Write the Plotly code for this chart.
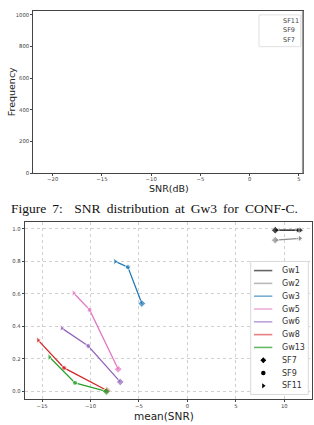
import plotly.graph_objects as go

W, H = 314, 425

# ---------------- top chart: SNR histogram (empty) ----------------
hist_series = ["SF11", "SF9", "SF7"]
snr_samples_sf11 = []
snr_samples_sf9 = []
snr_samples_sf7 = []
hist_xticks = [-20, -15, -10, -5, 0, 5]
hist_yticks = [0, 200, 400, 600, 800, 1000]

# ---------------- bottom chart: PS vs mean(SNR) ----------------
gateways = ["Gw1", "Gw2", "Gw3", "Gw5", "Gw6", "Gw8", "Gw13"]
sf_labels = ["SF7", "SF9", "SF11"]
snr_sf7 = [9.07, 9.07, -4.70, -7.14, -6.93, -8.30, -8.37]
snr_sf9 = [11.45, 11.55, -6.14, -10.09, -10.23, -12.73, -11.60]
snr_sf11 = [11.68, 11.62, -7.45, -11.74, -12.97, -15.41, -14.24]
ps_sf7 = [0.992, 0.931, 0.541, 0.137, 0.059, 0.006, 0.000]
ps_sf9 = [0.992, 0.941, 0.765, 0.502, 0.280, 0.145, 0.053]
ps_sf11 = [0.992, 0.942, 0.800, 0.606, 0.390, 0.316, 0.212]
ps_xticks = [-15, -10, -5, 0, 5, 10]
ps_yticks = [0.0, 0.2, 0.4, 0.6, 0.8, 1.0]

gw_colors = ["#000000", "#8c8c8c", "#1f77b4", "#e377c2", "#9467bd", "#d62728", "#2ca02c"]
gw_legend_colors = ["#666666", "#b8b8b8", "#79add2", "#eeadda", "#bfa4d7", "#e67d7e", "#66bb66"]
sf_symbols = ["diamond", "circle", "triangle-right"]
sf_sizes = [6, 5, 6]

FONT = "DejaVu Sans"

fig = go.Figure()

# top chart traces (no data)
for name, vals in zip(hist_series, [snr_samples_sf11, snr_samples_sf9, snr_samples_sf7]):
    fig.add_trace(go.Histogram(x=vals, name=name, xaxis="x", yaxis="y", showlegend=False))

# bottom chart traces
for i, gw in enumerate(gateways):
    fig.add_trace(go.Scatter(
        x=[snr_sf7[i], snr_sf9[i], snr_sf11[i]],
        y=[ps_sf7[i], ps_sf9[i], ps_sf11[i]],
        mode="lines+markers", name=gw,
        line=dict(color=gw_colors[i], width=1.3),
        marker=dict(symbol=sf_symbols, size=sf_sizes, color=gw_colors[i]),
        xaxis="x2", yaxis="y2", showlegend=False,
    ))

# ---------------- hand-drawn legends on a pixel-space helper axis ----------------
leg_rows_start, leg_row_step = 272.5, 12.9
shapes = []
annotations = []

# bottom legend box
shapes.append(dict(type="rect", xref="x3", yref="y3", x0=250.7, x1=308.3, y0=263.3, y1=397.3,
                   line=dict(color="#d9d9d9", width=1), fillcolor="white", layer="below"))
labels = gateways + sf_labels
for k, lab in enumerate(labels):
    ry = leg_rows_start + k * leg_row_step
    if k < len(gateways):
        fig.add_trace(go.Scatter(x=[254, 272.3], y=[ry, ry], mode="lines",
                                 line=dict(color=gw_legend_colors[k], width=1.6),
                                 xaxis="x3", yaxis="y3", showlegend=False, hoverinfo="skip"))
    else:
        j = k - len(gateways)
        fig.add_trace(go.Scatter(x=[263.3], y=[ry], mode="markers",
                                 marker=dict(symbol=sf_symbols[j], size=4.5, color="black"),
                                 xaxis="x3", yaxis="y3", showlegend=False, hoverinfo="skip"))
    annotations.append(dict(x=280, y=ry, xref="x3", yref="y3", text=lab, showarrow=False,
                            xanchor="left", yanchor="middle",
                            font=dict(family=FONT, size=8, color="#333")))

# top legend box
shapes.append(dict(type="rect", xref="x3", yref="y3", x0=259, x1=300.7, y0=15, y1=47,
                   line=dict(color="#e0e0e0", width=1), fillcolor="white", layer="below"))
for k, lab in enumerate(hist_series):
    annotations.append(dict(x=281, y=20.7 + 10 * k, xref="x3", yref="y3", text=lab, showarrow=False,
                            xanchor="left", yanchor="middle",
                            font=dict(family=FONT, size=6.5, color="#444")))

# axis titles and caption
def txt(x, y, t, size, angle=0, family=FONT, color="#222"):
    annotations.append(dict(x=x, y=y, xref="x3", yref="y3", text=t, showarrow=False,
                            xanchor="center", yanchor="middle", textangle=angle,
                            font=dict(family=family, size=size, color=color)))

txt(11, 93, "Frequency", 9.5, -90)
txt(169, 190, "SNR(dB)", 9.5)
sp = " \u2009"
caption = "Figure" + sp + "7:" + sp + "\u2009\u2009" + "SNR" + sp + "distribution" + sp + "at" + sp + \
          "Gw3" + sp + "for" + sp + "CONF-C."
txt(154.7, 210, caption, 13.5, family="Liberation Serif", color="#111")
txt(164, 418.8, "mean(SNR)", 10.5)
txt(-3, 315, "PS", 10.5, -90)

# right spine of the top chart appears lighter/thicker
shapes.append(dict(type="line", xref="x3", yref="y3", x0=302.7, x1=302.7, y0=11.3, y1=174.5,
                   line=dict(color="#9a9a9a", width=1.6), layer="above"))

def axis_common(standoff):
    return dict(showline=True, mirror=True, linecolor="#444", linewidth=1,
                ticks="outside", ticklen=2, tickwidth=0.8, tickcolor="#444",
                zeroline=False, fixedrange=True, ticklabelstandoff=standoff,
                tickfont=dict(family=FONT, size=5.3, color="#444"))

fig.update_layout(
    width=W, height=H,
    margin=dict(l=0, r=0, t=0, b=0),
    paper_bgcolor="white", plot_bgcolor="rgba(0,0,0,0)",
    showlegend=False,
    xaxis=dict(domain=[33.3 / W, 302.7 / W], range=[-21.97, 5.38], anchor="y",
               tickvals=hist_xticks, showgrid=False, **axis_common(-2)),
    yaxis=dict(domain=[1 - 174.5 / H, 1 - 11.3 / H], range=[0, 1023], anchor="x",
               tickvals=hist_yticks, showgrid=False, **axis_common(0)),
    xaxis2=dict(domain=[24.7 / W, 312.3 / W], range=[-16.79, 12.89], anchor="y2",
                tickvals=ps_xticks, showgrid=True, gridcolor="#d0d0d0", griddash="dot",
                gridwidth=0.8, **axis_common(-1)),
    yaxis2=dict(domain=[1 - 402.3 / H, 1 - 223.5 / H], range=[-0.049, 1.043], anchor="x2",
                tickvals=ps_yticks, tickformat=".1f", showgrid=True, gridcolor="#d0d0d0",
                griddash="dot", gridwidth=0.8, **axis_common(0)),
    xaxis3=dict(domain=[0, 1], range=[0, W], anchor="y3", visible=False, fixedrange=True),
    yaxis3=dict(domain=[0, 1], range=[H, 0], anchor="x3", visible=False, fixedrange=True),
    shapes=shapes,
    annotations=annotations,
)

fig.write_html("out.html")
